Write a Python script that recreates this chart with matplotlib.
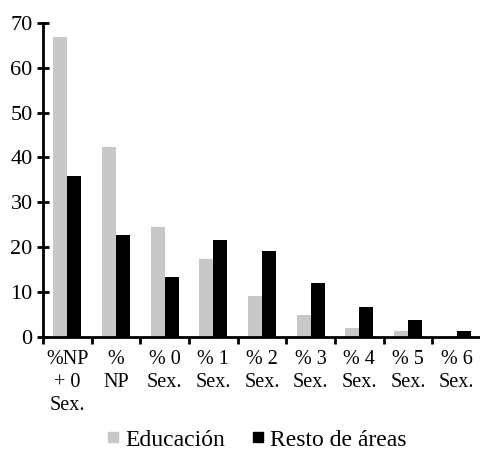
import matplotlib
matplotlib.use("Agg")
import matplotlib.pyplot as plt
import numpy as np
from matplotlib.lines import Line2D

categories = ["%NP\n+ 0\nSex.", "%\nNP", "% 0\nSex.", "% 1\nSex.", "% 2\nSex.",
              "% 3\nSex.", "% 4\nSex.", "% 5\nSex.", "% 6\nSex."]
educacion = [66.8, 42.3, 24.5, 17.4, 9.1, 4.9, 2.1, 1.3, 0.2]
resto = [35.9, 22.7, 13.4, 21.6, 19.2, 12.0, 6.7, 3.8, 1.3]
series_names = ["Educación", "Resto de áreas"]
yticks = [0, 10, 20, 30, 40, 50, 60, 70]

plt.rcParams['font.family'] = ['Liberation Serif', 'DejaVu Serif']

fig = plt.figure(figsize=(4.81, 4.51), dpi=100)
ax = fig.add_axes([43/481, 1-337/451, 1-43/481, (337-22.7)/451])

x = np.arange(len(categories))
w = 0.29
gray = "#c8c8c8"
ax.bar(x - w/2, educacion, w, color=gray, label=series_names[0])
ax.bar(x + w/2, resto, w, color="black", label=series_names[1])

ax.set_xlim(-0.5, len(categories) - 0.5)
ax.set_ylim(0, 70)
ax.set_yticks(yticks)
ax.set_yticklabels([str(v) for v in yticks], fontsize=16)

ax.set_xticks(np.arange(-0.5, len(categories) + 0.5, 1.0))
ax.set_xticklabels([])
ax.set_xticks(x, minor=True)
ax.set_xticklabels(categories, minor=True, fontsize=14.5, linespacing=1.3)
ax.tick_params(axis='x', which='minor', length=0, pad=9)
ax.tick_params(axis='x', which='major', direction='out', length=5, width=2)
ax.tick_params(axis='y', which='major', direction='inout', length=9, width=2, pad=3)

for s in ['top', 'right']:
    ax.spines[s].set_visible(False)
for s in ['left', 'bottom']:
    ax.spines[s].set_linewidth(2)
ax.spines['bottom'].set_zorder(3)

handles = [Line2D([], [], linestyle='none', marker='s', markersize=7, color=gray),
           Line2D([], [], linestyle='none', marker='s', markersize=7, color='black')]
fig.legend(handles, series_names, loc='center', bbox_to_anchor=(0.533, 1-440/451),
           ncol=2, frameon=False, fontsize=17, handlelength=0.6,
           handletextpad=0.2, columnspacing=1.1, borderpad=0)

fig.savefig("out.png", dpi=100)
